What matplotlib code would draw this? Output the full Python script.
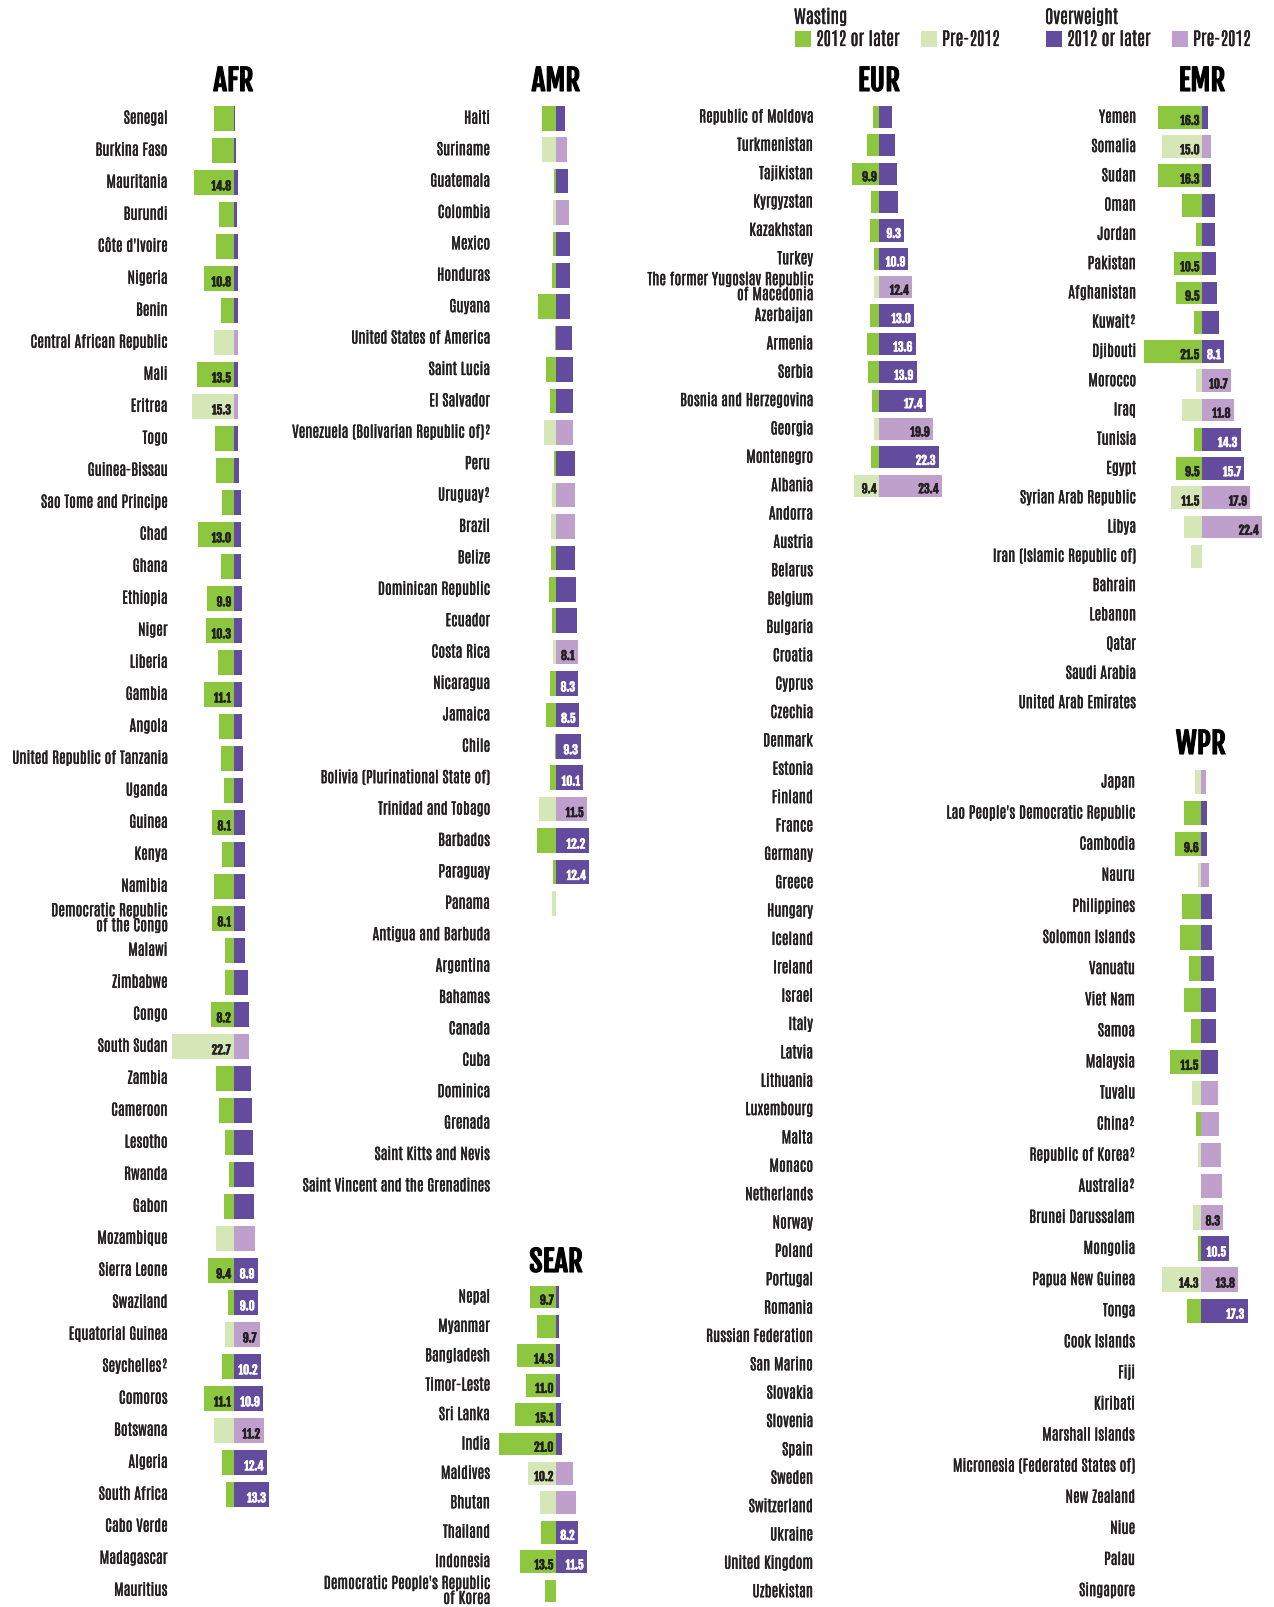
import numpy as np
import matplotlib
matplotlib.use("Agg")
import matplotlib.pyplot as plt
import matplotlib.patheffects as pe
from matplotlib.patches import Rectangle

plt.rcParams['font.family'] = ['Antonio', 'DejaVu Sans']
HEAVY = ['Fjalla One', 'Antonio', 'DejaVu Sans']   # heavy condensed face for titles and values

NAN = np.nan

# ---------------------------------------------------------------- data
# wasting / overweight prevalence (%), flag 1 = survey 2012 or later, 0 = pre-2012

afr_countries = [
    "Senegal", "Burkina Faso", "Mauritania", "Burundi", "Côte d'Ivoire", "Nigeria",
    "Benin", "Central African Republic", "Mali", "Eritrea", "Togo", "Guinea-Bissau",
    "Sao Tome and Principe", "Chad", "Ghana", "Ethiopia", "Niger", "Liberia", "Gambia",
    "Angola", "United Republic of Tanzania", "Uganda", "Guinea", "Kenya", "Namibia",
    "Democratic Republic\nof the Congo", "Malawi", "Zimbabwe", "Congo", "South Sudan",
    "Zambia", "Cameroon", "Lesotho", "Rwanda", "Gabon", "Mozambique", "Sierra Leone",
    "Swaziland", "Equatorial Guinea", "Seychelles²", "Comoros", "Botswana", "Algeria",
    "South Africa", "Cabo Verde", "Madagascar", "Mauritius"]
afr_wasting = [7.4, 7.8, 14.8, 5.2, 6.3, 10.8, 4.8, 7.4, 13.5, 15.3, 7.0, 6.3,
               4.1, 13.0, 4.8, 9.9, 10.3, 5.9, 11.1, 5.2, 4.8, 3.7, 8.1, 4.1, 7.4,
               8.1, 3.0, 3.3, 8.2, 22.7, 6.3, 5.2, 3.0, 1.8, 3.7, 6.3, 9.4,
               2.2, 3.3, 4.4, 11.1, 7.4, 4.1, 2.6, NAN, NAN, NAN]
afr_wasting_recent = [1, 1, 1, 1, 1, 1, 1, 0, 1, 0, 1, 1,
                      1, 1, 1, 1, 1, 1, 1, 1, 1, 1, 1, 1, 1,
                      1, 1, 1, 1, 0, 1, 1, 1, 1, 1, 0, 1,
                      1, 0, 1, 1, 0, 1, 1, 1, 1, 1]
afr_overweight = [0.7, 1.1, 1.5, 1.4, 1.5, 1.5, 1.7, 1.8, 1.8, 1.8, 1.8, 2.2,
                  2.6, 2.6, 2.6, 3.0, 3.0, 3.3, 3.3, 3.3, 3.7, 3.7, 4.1, 4.1, 4.1,
                  4.4, 4.4, 5.5, 5.9, 5.9, 6.3, 6.7, 7.4, 7.7, 7.7, 7.9, 8.9,
                  9.0, 9.7, 10.2, 10.9, 11.2, 12.4, 13.3, NAN, NAN, NAN]
afr_overweight_recent = afr_wasting_recent

amr_countries = [
    "Haiti", "Suriname", "Guatemala", "Colombia", "Mexico", "Honduras", "Guyana",
    "United States of America", "Saint Lucia", "El Salvador",
    "Venezuela (Bolivarian Republic of)²", "Peru", "Uruguay²", "Brazil", "Belize",
    "Dominican Republic", "Ecuador", "Costa Rica", "Nicaragua", "Jamaica", "Chile",
    "Bolivia (Plurinational State of)", "Trinidad and Tobago", "Barbados", "Paraguay",
    "Panama", "Antigua and Barbuda", "Argentina", "Bahamas", "Canada", "Cuba",
    "Dominica", "Grenada", "Saint Kitts and Nevis", "Saint Vincent and the Grenadines"]
amr_wasting = [5.2, 5.2, 0.7, 1.1, 1.1, 1.5, 6.7, 0.5, 3.7, 2.2,
               4.5, 0.9, 1.5, 1.9, 1.9, 2.6, 1.6, 1.1, 2.2, 3.7, 0.3,
               2.2, 6.3, 7.0, 1.1, 1.5, NAN, NAN, NAN, NAN, NAN,
               NAN, NAN, NAN, NAN]
amr_wasting_recent = [1, 0, 1, 0, 1, 1, 1, 1, 1, 1,
                      0, 1, 0, 0, 1, 1, 1, 0, 1, 1, 1,
                      1, 0, 1, 1, 0, 1, 1, 1, 1, 1,
                      1, 1, 1, 1]
amr_overweight = [3.3, 4.1, 4.5, 4.8, 5.2, 5.2, 5.2, 5.9, 6.3, 6.3,
                  6.3, 7.1, 7.1, 7.1, 7.1, 7.4, 7.8, 8.1, 8.3, 8.5, 9.3,
                  10.1, 11.5, 12.2, 12.4, NAN, NAN, NAN, NAN, NAN, NAN,
                  NAN, NAN, NAN, NAN]
amr_overweight_recent = amr_wasting_recent

sear_countries = [
    "Nepal", "Myanmar", "Bangladesh", "Timor-Leste", "Sri Lanka", "India", "Maldives",
    "Bhutan", "Thailand", "Indonesia", "Democratic People's Republic\nof Korea"]
sear_wasting = [9.7, 7.1, 14.3, 11.0, 15.1, 21.0, 10.2, 5.9, 5.6, 13.5, 4.1]
sear_wasting_recent = [1, 1, 1, 1, 1, 1, 0, 0, 1, 1, 1]
sear_overweight = [1.1, 1.1, 1.5, 1.5, 1.9, 2.2, 6.3, 7.4, 8.2, 11.5, NAN]
sear_overweight_recent = sear_wasting_recent

eur_countries = [
    "Republic of Moldova", "Turkmenistan", "Tajikistan", "Kyrgyzstan", "Kazakhstan",
    "Turkey", "The former Yugoslav Republic\nof Macedonia", "Azerbaijan", "Armenia",
    "Serbia", "Bosnia and Herzegovina", "Georgia", "Montenegro", "Albania", "Andorra",
    "Austria", "Belarus", "Belgium", "Bulgaria", "Croatia", "Cyprus", "Czechia",
    "Denmark", "Estonia", "Finland", "France", "Germany", "Greece", "Hungary",
    "Iceland", "Ireland", "Israel", "Italy", "Latvia", "Lithuania", "Luxembourg",
    "Malta", "Monaco", "Netherlands", "Norway", "Poland", "Portugal", "Romania",
    "Russian Federation", "San Marino", "Slovakia", "Slovenia", "Spain", "Sweden",
    "Switzerland", "Ukraine", "United Kingdom", "Uzbekistan"]
eur_wasting = [2.2, 4.5, 9.9, 3.0, 3.3, 1.9, 1.9, 3.3, 4.5, 4.1, 2.6, 1.9, 3.0, 9.4] + [NAN] * 39
eur_wasting_recent = [1, 1, 1, 1, 1, 1, 0, 1, 1, 1, 1, 0, 1, 0] + [1] * 39
eur_overweight = [4.8, 5.9, 6.7, 7.1, 9.3, 10.9, 12.4, 13.0, 13.6, 13.9, 17.4,
                  19.9, 22.3, 23.4] + [NAN] * 39
eur_overweight_recent = eur_wasting_recent

emr_countries = [
    "Yemen", "Somalia", "Sudan", "Oman", "Jordan", "Pakistan", "Afghanistan",
    "Kuwait²", "Djibouti", "Morocco", "Iraq", "Tunisia", "Egypt",
    "Syrian Arab Republic", "Libya", "Iran (Islamic Republic of)", "Bahrain",
    "Lebanon", "Qatar", "Saudi Arabia", "United Arab Emirates"]
emr_wasting = [16.3, 15.0, 16.3, 7.5, 2.4, 10.5, 9.5, 3.1, 21.5, 2.4, 7.5, 2.8,
               9.5, 11.5, 6.5, 4.2, NAN, NAN, NAN, NAN, NAN]
emr_wasting_recent = [1, 0, 1, 1, 1, 1, 1, 1, 1, 0, 0, 1, 1, 0, 0, 0, 1, 1, 1, 1, 1]
emr_overweight = [2.1, 3.2, 3.2, 4.7, 4.7, 5.1, 5.4, 6.2, 8.1, 10.7, 11.8, 14.3,
                  15.7, 17.9, 22.4, NAN, NAN, NAN, NAN, NAN, NAN]
emr_overweight_recent = emr_wasting_recent

wpr_countries = [
    "Japan", "Lao People's Democratic Republic", "Cambodia", "Nauru", "Philippines",
    "Solomon Islands", "Vanuatu", "Viet Nam", "Samoa", "Malaysia", "Tuvalu", "China²",
    "Republic of Korea²", "Australia²", "Brunei Darussalam", "Mongolia",
    "Papua New Guinea", "Tonga", "Cook Islands", "Fiji", "Kiribati",
    "Marshall Islands", "Micronesia (Federated States of)", "New Zealand", "Niue",
    "Palau", "Singapore"]
wpr_wasting = [2.3, 6.4, 9.6, 1.2, 7.2, 7.9, 4.6, 6.4, 3.8, 11.5, 3.5, 2.0,
               1.2, NAN, 3.1, 1.2, 14.3, 5.3] + [NAN] * 9
wpr_wasting_recent = [0, 1, 1, 0, 1, 1, 1, 1, 1, 1, 0, 1,
                      0, 0, 0, 1, 0, 1] + [1] * 9
wpr_overweight = [1.7, 2.1, 2.1, 2.8, 4.0, 4.0, 4.7, 5.4, 5.4, 6.2, 6.2, 6.6,
                  7.3, 7.7, 8.3, 10.5, 13.8, 17.3] + [NAN] * 9
wpr_overweight_recent = [0, 1, 1, 0, 1, 1, 1, 1, 1, 1, 0, 0,
                         0, 0, 0, 1, 0, 1] + [1] * 9

# ---------------------------------------------------------------- style
W_NEW, W_OLD = "#8dc63f", "#d5e6b7"
O_NEW, O_OLD = "#634b9e", "#bfa0cc"
INK = "#231f20"

FIG_W, FIG_H = 1274, 1608
PX_PER_UNIT = 2.7          # horizontal pixels per percentage point
HALF_SPAN = 26.0           # axis half-width in percentage points


def heavier(color, lw=0.2):
    """Thin outline in the text colour, giving a slightly heavier stroke."""
    return [pe.withStroke(linewidth=lw, foreground=color)]


fig = plt.figure(figsize=(FIG_W / 100, FIG_H / 100), dpi=100)
fig.patch.set_facecolor("white")


def draw_panel(title, countries, wasting, w_recent, overweight, o_recent,
               center_px, first_row_px, row_px, title_px):
    n = len(countries)
    left = (center_px - HALF_SPAN * PX_PER_UNIT) / FIG_W
    width = 2 * HALF_SPAN * PX_PER_UNIT / FIG_W
    top_px = first_row_px - row_px / 2
    height = n * row_px / FIG_H
    bottom = 1 - (top_px + n * row_px) / FIG_H
    ax = fig.add_axes([left, bottom, width, height])
    ax.set_xlim(-HALF_SPAN, HALF_SPAN)
    ax.set_ylim(n - 0.5, -0.5)
    ax.axis("off")

    w = np.array(wasting, dtype=float)
    o = np.array(overweight, dtype=float)
    idx = np.arange(n)
    bh = 0.78

    mw = ~np.isnan(w)
    ax.barh(idx[mw], -w[mw], height=bh, linewidth=0,
            color=[W_NEW if w_recent[i] else W_OLD for i in idx[mw]])
    mo = ~np.isnan(o)
    ax.barh(idx[mo], o[mo], height=bh, linewidth=0,
            color=[O_NEW if o_recent[i] else O_OLD for i in idx[mo]])

    for i, name in enumerate(countries):
        ax.text(-24.4, i, name, ha="right", va="center", fontsize=11,
                color=INK, linespacing=1.0, path_effects=heavier(INK))
        if mw[i] and w[i] >= 8:
            ax.text(-1.0, i + 0.14, f"{w[i]:.1f}", ha="right", va="center",
                    fontsize=8.5, family=HEAVY, color=INK,
                    path_effects=heavier(INK, 0.5))
        if mo[i] and o[i] >= 8:
            col = "white" if o_recent[i] else INK
            ax.text(o[i] - 1.3, i + 0.14, f"{o[i]:.1f}", ha="right", va="center",
                    fontsize=8.5, family=HEAVY, color=col,
                    path_effects=heavier(col, 0.5))

    ax.text(0, (title_px - first_row_px) / row_px, title, ha="center", va="center",
            fontsize=21, family=HEAVY, color="black",
            path_effects=heavier("black", 0.8))
    return ax


draw_panel("AFR", afr_countries, afr_wasting, afr_wasting_recent,
           afr_overweight, afr_overweight_recent, 233.5, 119.3, 32.0, 82)
draw_panel("AMR", amr_countries, amr_wasting, amr_wasting_recent,
           amr_overweight, amr_overweight_recent, 556, 119.3, 31.4, 82)
draw_panel("SEAR", sear_countries, sear_wasting, sear_wasting_recent,
           sear_overweight, sear_overweight_recent, 556, 1298, 29.4, 1263)
draw_panel("EUR", eur_countries, eur_wasting, eur_wasting_recent,
           eur_overweight, eur_overweight_recent, 879, 118, 28.36, 82)
draw_panel("EMR", emr_countries, emr_wasting, emr_wasting_recent,
           emr_overweight, emr_overweight_recent, 1202, 118.3, 29.27, 82)
draw_panel("WPR", wpr_countries, wpr_wasting, wpr_wasting_recent,
           wpr_overweight, wpr_overweight_recent, 1201, 783, 31.1, 745)

# ---------------------------------------------------------------- legend
lg = fig.add_axes([0, 0, 1, 1], zorder=-1)
lg.set_xlim(0, FIG_W)
lg.set_ylim(FIG_H, 0)
lg.axis("off")

legend_groups = [
    ("Wasting", 794, [(W_NEW, "2012 or later"), (W_OLD, "Pre-2012")]),
    ("Overweight", 1045, [(O_NEW, "2012 or later"), (O_OLD, "Pre-2012")]),
]
for head, x0, items in legend_groups:
    lg.text(x0, 18, head, ha="left", va="center", fontsize=13, color=INK,
            path_effects=heavier(INK))
    xs = [x0 + 1, x0 + 127]
    for (col, lab), xs_ in zip(items, xs):
        lg.add_patch(Rectangle((xs_, 32), 16, 16, facecolor=col, linewidth=0))
        lg.text(xs_ + 21, 40, lab, ha="left", va="center", fontsize=13, color=INK,
                path_effects=heavier(INK))

fig.savefig("out.png", dpi=100, facecolor="white")
